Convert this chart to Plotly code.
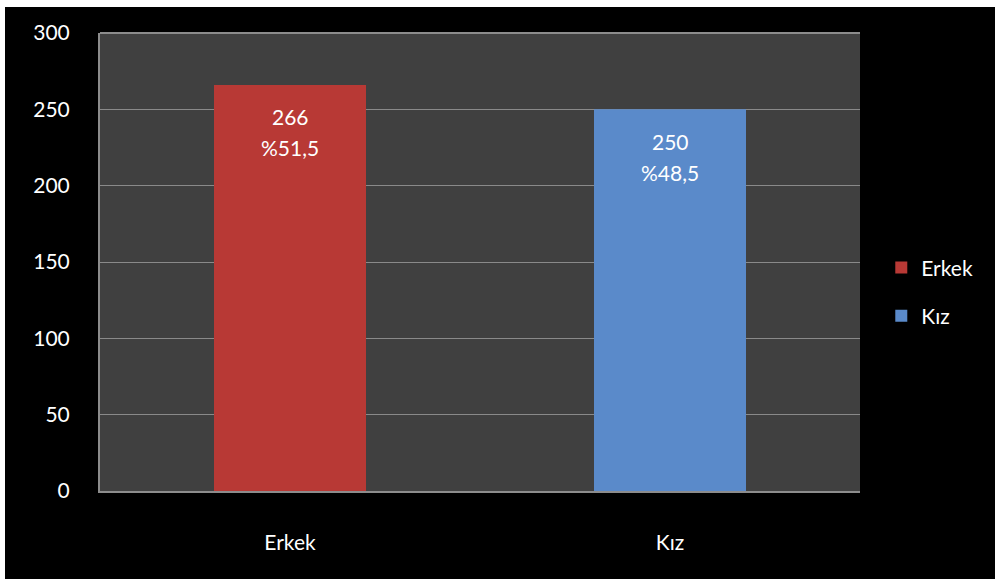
import plotly.graph_objects as go

categories = ["Erkek", "Kız"]
values = [266, 250]
percent_labels = ["%51,5", "%48,5"]
colors = ["#B83935", "#5A8ACA"]
y_ticks = [0, 50, 100, 150, 200, 250, 300]

W, H = 995, 579
L, R, T, B = 100, 135, 33, 88
FONT = "Lato, 'Open Sans', sans-serif"
FS = 21

fig = go.Figure()
for cat, val, col in zip(categories, values, colors):
    fig.add_trace(go.Bar(
        x=[cat], y=[val], name=cat, legendgroup=cat,
        marker=dict(color=col, line=dict(width=0)),
        width=0.4,
    ))

annotations = []
for cat, val, pct in zip(categories, values, percent_labels):
    annotations.append(dict(
        x=cat, y=val, xref="x", yref="y",
        text=str(val), showarrow=False,
        yanchor="middle", yshift=-32,
        font=dict(color="white", size=FS, family=FONT),
    ))
    annotations.append(dict(
        x=cat, y=val, xref="x", yref="y",
        text=pct, showarrow=False,
        yanchor="middle", yshift=-63,
        font=dict(color="white", size=FS, family=FONT),
    ))

ph = H - T - B
pw = W - L - R
def py(pix):
    return (H - B - pix) / ph
def px(pix):
    return (pix - L) / pw

fig.update_layout(
    width=W, height=H,
    margin=dict(l=L, r=R, t=T, b=B, pad=0),
    paper_bgcolor="black",
    plot_bgcolor="#404040",
    barmode="overlay",
    font=dict(family=FONT, color="white", size=FS),
    annotations=annotations,
    legend=dict(
        x=1.028, xanchor="left", y=0.435, yanchor="middle",
        font=dict(size=FS, color="white", family=FONT),
        bgcolor="rgba(0,0,0,0)",
        tracegroupgap=18,
        itemwidth=30,
    ),
    xaxis=dict(
        showgrid=False, showline=True, linecolor="#8C8C8C", linewidth=2,
        ticks="outside", ticklen=0, ticklabelstandoff=32,
        tickfont=dict(size=FS, color="white", family=FONT),
        fixedrange=True,
    ),
    yaxis=dict(
        range=[0, 300], tickvals=y_ticks,
        showgrid=True, gridcolor="#8A8A8A", gridwidth=1,
        showline=True, linecolor="#8C8C8C", linewidth=2, mirror=False,
        ticks="outside", ticklen=0, ticklabelstandoff=24,
        tickfont=dict(size=FS, color="white", family=FONT),
        zeroline=False,
    ),
    shapes=[
        dict(type="rect", xref="paper", yref="paper",
             x0=px(0), x1=px(W), y0=py(7), y1=py(0),
             fillcolor="white", line=dict(width=0), layer="above"),
        dict(type="rect", xref="paper", yref="paper",
             x0=px(0), x1=px(5), y0=py(H), y1=py(0),
             fillcolor="white", line=dict(width=0), layer="above"),
        dict(type="line", xref="paper", yref="paper",
             x0=0, x1=1, y0=1, y1=1,
             line=dict(color="#8C8C8C", width=2), layer="below"),
    ],
)

fig.write_html("out.html")
